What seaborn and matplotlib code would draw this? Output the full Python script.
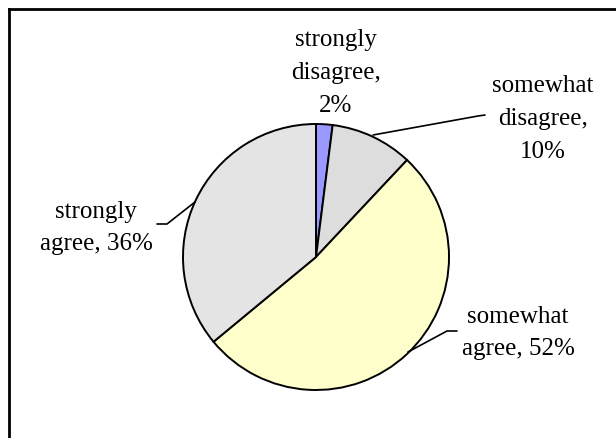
import matplotlib
matplotlib.use("Agg")
import matplotlib.pyplot as plt
import seaborn as sns

categories = ["strongly disagree", "somewhat disagree", "somewhat agree", "strongly agree"]
values = [2, 10, 52, 36]
label_texts = ["strongly\ndisagree,\n2%", "somewhat\ndisagree,\n10%",
               "somewhat\nagree, 52%", "strongly\nagree, 36%"]
colors = ["#9999FF", "#DDDDDD", "#FFFFCC", "#E4E4E4"]

sns.set_style("white")
plt.rcParams['font.family'] = ['Liberation Serif', 'DejaVu Serif']

W, H = 616, 439
fig = plt.figure(figsize=(W / 100, H / 100), dpi=100)
ax = fig.add_axes([0, 0, 1, 1])

def Y(y):
    return H - y

pal = sns.color_palette(colors)
ax.pie(values, colors=pal, startangle=90, counterclock=False,
       center=(316, Y(258)), radius=133,
       wedgeprops=dict(edgecolor="black", linewidth=1.4))
ax.set_xlim(0, W)
ax.set_ylim(0, H)
ax.set_aspect("equal")
ax.axis("off")

# labels (positions in pixel coords, y down)
label_pos = [(336, 73), (543, 119), (518, 333), (96, 228)]
for txt, (x, y) in zip(label_texts, label_pos):
    ax.text(x, Y(y), txt, ha="center", va="center", fontsize=18,
            linespacing=1.62, color="black")

leaders = [
    [(373, 136), (478, 117), (485, 116)],
    [(408, 353), (447, 332), (457, 332)],
    [(195, 203), (167, 225), (157, 225)],
]
for pts in leaders:
    ax.plot([p[0] for p in pts], [Y(p[1]) for p in pts], color="black", lw=1.2)

# outer frame (top and left edges visible)
ax.plot([9, W], [Y(10), Y(10)], color="black", lw=2.0, solid_capstyle="projecting")
ax.plot([9, 9], [Y(10), 0], color="black", lw=2.0, solid_capstyle="projecting")

fig.savefig("out.png", dpi=100)
